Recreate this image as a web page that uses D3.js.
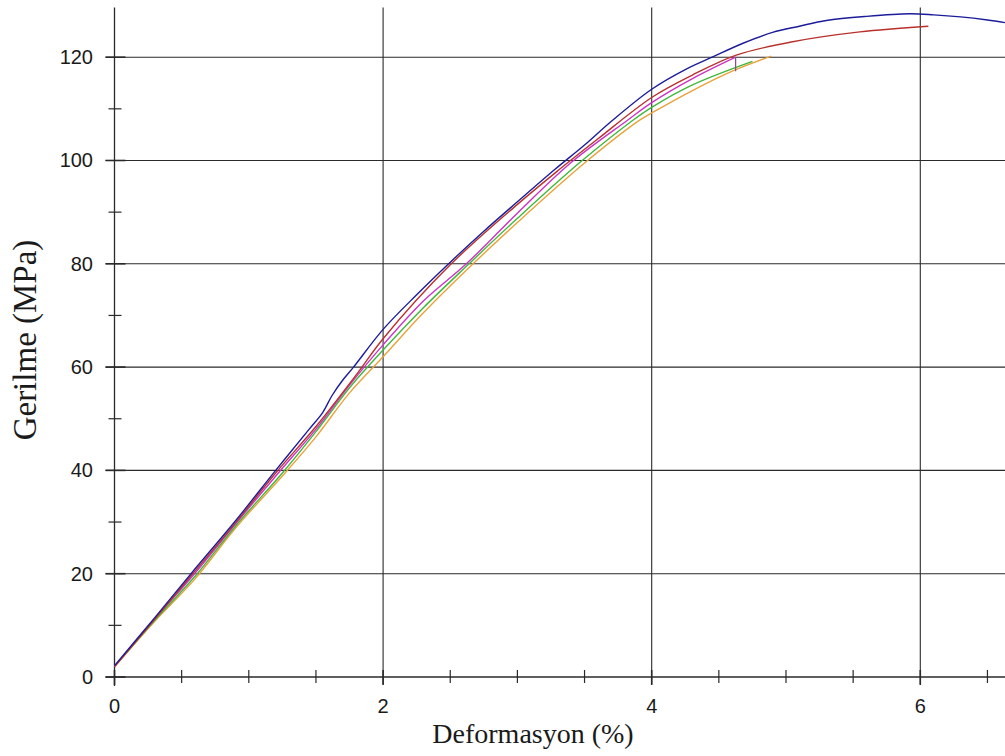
<!DOCTYPE html>
<html>
<head>
<meta charset="utf-8">
<script src="https://cdn.jsdelivr.net/npm/d3@7/dist/d3.min.js"></script>
<style>
  html, body { margin: 0; padding: 0; background: #fff; }
  svg { display: block; }
</style>
</head>
<body>
<svg id="chart" width="1005" height="756"></svg>
<script>
// ---- data (Deformasyon %, Gerilme MPa) ----
const xTickLabels = [0, 2, 4, 6];
const yTickLabels = [0, 20, 40, 60, 80, 100, 120];
const xMinorTicks = [0.5, 1, 1.5, 2.5, 3, 3.5, 4.5, 5, 5.5, 6.5];
const yMinorTicks = [10, 30, 50, 70, 90, 110];

const blueSeries = [
  [0, 2.2], [0.3, 11.5], [0.57, 20], [0.9, 30.2], [1.2, 40], [1.45, 48], [1.55, 51.2],
  [1.62, 54.5], [1.7, 57.5], [1.78, 60], [2.0, 67.3], [2.25, 74], [2.5, 80.3],
  [2.75, 86.3], [3.0, 92], [3.28, 98.3], [3.5, 103], [3.7, 107.6], [4.0, 113.8],
  [4.25, 117.6], [4.45, 120], [4.68, 122.7], [4.9, 124.8], [5.1, 126], [5.3, 127.1],
  [5.6, 127.9], [5.92, 128.4], [6.1, 128.2], [6.3, 127.8], [6.5, 127.2], [6.63, 126.7]
];
const redSeries = [
  [0, 2.0], [0.3, 11.2], [0.57, 19.6], [0.9, 29.8], [1.2, 39.5], [1.5, 48.5], [1.8, 58.5],
  [2.0, 65.5], [2.5, 79.8], [3.0, 91.5], [3.3, 98], [3.6, 104.2], [4.0, 112.2],
  [4.3, 116.5], [4.63, 120.4], [5.05, 123], [5.55, 124.9], [6.06, 126]
];
const magentaSeries = [
  [0, 2.0], [0.3, 11.3], [0.58, 19.5], [0.9, 29.6], [1.22, 39.5], [1.5, 48], [1.75, 56.5],
  [2.0, 64.3], [2.3, 72.8], [2.62, 80], [3.0, 89.8], [3.4, 99.6], [3.82, 107.8],
  [4.0, 111.2], [4.3, 115.8], [4.625, 120]
];
const magentaBreak = [[4.625, 120], [4.625, 117.3]];
const greenSeries = [
  [0, 2.0], [0.3, 11], [0.6, 19.5], [0.9, 29.2], [1.25, 39.5], [1.5, 47.5], [1.75, 56],
  [2.0, 63.3], [2.3, 71.5], [2.64, 80], [3.0, 88.8], [3.46, 99.5], [3.86, 107.8],
  [4.0, 110.3], [4.3, 114.6], [4.75, 119.2]
];
const orangeSeries = [
  [0, 2.0], [0.3, 10.8], [0.6, 19], [0.9, 28.8], [1.27, 39.5], [1.5, 46.5], [1.75, 55],
  [2.0, 62], [2.3, 70.5], [2.67, 80], [3.0, 88], [3.5, 99.5], [3.91, 107.8],
  [4.0, 109.2], [4.3, 113.5], [4.6, 117.3], [4.89, 120.2]
];

const seriesList = [
  { data: orangeSeries, color: "#e9a23b" },
  { data: greenSeries, color: "#3fb83a" },
  { data: magentaSeries, color: "#cc33c4" },
  { data: redSeries, color: "#b8312c" },
  { data: blueSeries, color: "#1c1c9a" }
];

// ---- layout ----
const svg = d3.select("#chart");
const x = d3.scaleLinear().domain([0, 6.63]).range([114.5, 1004.9]);
const y = d3.scaleLinear().domain([0, 129.6]).range([677, 7.6]);
const gridColor = "#2a2a2a";

// grid lines
svg.append("g").selectAll("line").data(xTickLabels.filter(d => d > 0)).join("line")
  .attr("x1", d => x(d)).attr("x2", d => x(d))
  .attr("y1", y(129.6)).attr("y2", y(0) + 7)
  .attr("stroke", gridColor).attr("stroke-width", 1.1);
svg.append("g").selectAll("line").data(yTickLabels.filter(d => d > 0)).join("line")
  .attr("x1", x(0) - 9).attr("x2", 1005)
  .attr("y1", d => y(d)).attr("y2", d => y(d))
  .attr("stroke", gridColor).attr("stroke-width", 1.1);

// axes lines
svg.append("line").attr("x1", x(0)).attr("x2", x(0)).attr("y1", y(129.6)).attr("y2", y(0) + 9)
  .attr("stroke", gridColor).attr("stroke-width", 1.3);
svg.append("line").attr("x1", x(0) - 9).attr("x2", 1005).attr("y1", y(0)).attr("y2", y(0))
  .attr("stroke", gridColor).attr("stroke-width", 1.3);

// minor ticks
svg.append("g").selectAll("line").data(xMinorTicks).join("line")
  .attr("x1", d => x(d)).attr("x2", d => x(d))
  .attr("y1", y(0) - 7).attr("y2", y(0) + 6)
  .attr("stroke", gridColor).attr("stroke-width", 1.2);
svg.append("g").selectAll("line").data(yMinorTicks).join("line")
  .attr("x1", x(0) - 6).attr("x2", x(0) + 7)
  .attr("y1", d => y(d)).attr("y2", d => y(d))
  .attr("stroke", gridColor).attr("stroke-width", 1.2);
// major tick stubs
svg.append("g").selectAll("line").data(yTickLabels).join("line")
  .attr("x1", x(0) - 9).attr("x2", x(0) + 11)
  .attr("y1", d => y(d)).attr("y2", d => y(d))
  .attr("stroke", gridColor).attr("stroke-width", 1.6);
svg.append("g").selectAll("line").data(xTickLabels).join("line")
  .attr("x1", d => x(d)).attr("x2", d => x(d))
  .attr("y1", y(0) - 7).attr("y2", y(0) + 8)
  .attr("stroke", gridColor).attr("stroke-width", 1.6);

// tick labels
svg.append("g").selectAll("text").data(xTickLabels).join("text")
  .attr("x", d => x(d)).attr("y", 713)
  .attr("text-anchor", "middle")
  .attr("font-family", "Liberation Sans, Arial, sans-serif").attr("font-size", 20)
  .attr("fill", "#1a1a1a").text(d => d);
svg.append("g").selectAll("text").data(yTickLabels).join("text")
  .attr("x", 93).attr("y", d => y(d) + 7)
  .attr("text-anchor", "end")
  .attr("font-family", "Liberation Sans, Arial, sans-serif").attr("font-size", 20)
  .attr("fill", "#1a1a1a").text(d => d);

// axis titles
svg.append("text").attr("x", 533).attr("y", 743).attr("text-anchor", "middle")
  .attr("font-family", "Liberation Serif, Times New Roman, serif").attr("font-size", 28)
  .attr("fill", "#1a1a1a").text("Deformasyon (%)");
svg.append("text").attr("transform", "translate(36,340) rotate(-90)").attr("text-anchor", "middle")
  .attr("font-family", "Liberation Serif, Times New Roman, serif").attr("font-size", 33)
  .attr("fill", "#1a1a1a").text("Gerilme (MPa)");

// curves
const line = d3.line().x(d => x(d[0])).y(d => y(d[1])).curve(d3.curveCatmullRom.alpha(0.5));
const lineStraight = d3.line().x(d => x(d[0])).y(d => y(d[1]));
seriesList.forEach(s => {
  svg.append("path").datum(s.data).attr("d", line)
    .attr("fill", "none").attr("stroke", s.color).attr("stroke-width", 1.4);
});
svg.append("path").datum(magentaBreak).attr("d", lineStraight)
  .attr("fill", "none").attr("stroke", "#8a4a8a").attr("stroke-width", 1.2);
</script>
</body>
</html>
